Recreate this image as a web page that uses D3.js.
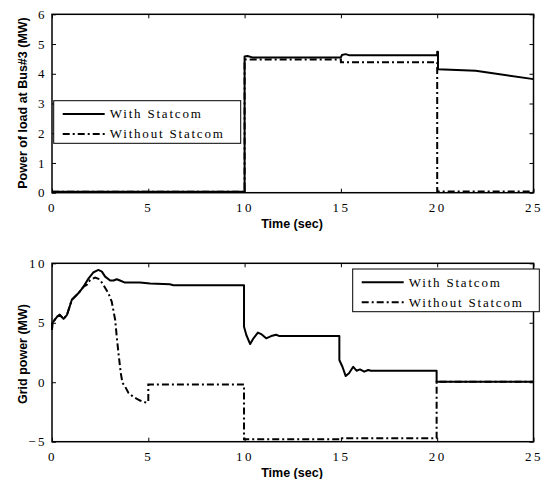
<!DOCTYPE html>
<html>
<head>
<meta charset="utf-8">
<script src="https://cdn.jsdelivr.net/npm/d3@7"></script>
<style>
  body { margin: 0; background: #fff; }
  .tick text { font-family: "Liberation Serif", "Times New Roman", serif; font-size: 13px; letter-spacing: 2.5px; fill: #000; }
  .axlabel { font-family: "Liberation Sans", Arial, sans-serif; font-weight: bold; font-size: 12.5px; }
  .legtext { font-family: "Liberation Serif", "Times New Roman", serif; font-size: 13px; letter-spacing: 1.8px; }
</style>
</head>
<body>
<div id="chart"></div>
<script>
// series: [time (sec), value (MW)]
var loadWith = [[0,0.03],[10,0.03],[10,4.58],[10.15,4.6],[10.4,4.55],[15,4.55],[15.05,4.63],[15.25,4.66],[15.45,4.62],[20,4.62],[20,4.74],[20.04,4.74],[20.04,4.15],[22,4.1],[25,3.82]];
var loadWithout = [[0,0.03],[10,0.03],[10,4.48],[15,4.48],[15,4.39],[20,4.39],[20,0.04],[25,0.04]];

var gridWith = [[0,4.4],[0.02,5.0],[0.26,5.5],[0.4,5.67],[0.6,5.33],[0.78,5.67],[1.03,6.93],[1.38,7.5],[1.64,8.04],[1.9,8.74],[2.16,9.25],[2.41,9.44],[2.59,9.3],[2.76,8.88],[3.02,8.55],[3.2,8.55],[3.36,8.66],[3.53,8.55],[3.79,8.38],[4.57,8.38],[5.09,8.3],[6.12,8.24],[6.3,8.16],[9.97,8.16],[9.97,4.67],[10.09,3.97],[10.29,3.21],[10.46,3.69],[10.69,4.17],[10.86,4.05],[11.12,3.69],[11.38,3.88],[11.64,3.99],[11.81,3.88],[14.92,3.88],[14.92,1.87],[15.08,1.3],[15.25,0.52],[15.42,0.75],[15.64,1.3],[15.81,0.97],[15.99,1.08],[16.21,0.89],[16.42,1.03],[16.56,0.97],[19.97,0.97],[19.97,0.04],[25,0.04]];
var gridWithout = [[0,4.4],[0.02,5.0],[0.26,5.5],[0.4,5.67],[0.6,5.33],[0.78,5.67],[1.03,6.93],[1.38,7.5],[1.64,8.04],[1.81,8.2],[1.98,8.6],[2.24,8.8],[2.47,8.66],[2.67,8.18],[2.93,7.48],[3.1,6.78],[3.28,5.25],[3.36,3.85],[3.45,2.46],[3.57,0.78],[3.66,-0.06],[3.79,-0.34],[3.97,-0.9],[4.22,-1.23],[4.57,-1.54],[4.91,-1.73],[5.0,-1.6],[5.0,-0.2],[9.97,-0.2],[9.97,-4.8],[15,-4.8],[15,-4.72],[19.97,-4.72],[19.97,0.04],[25,0.04]];

var xTicks = [0, 5, 10, 15, 20, 25];
var loadTicks = [0, 1, 2, 3, 4, 5, 6];
var gridTicks = [-5, 0, 5, 10];
var legendNames = ["With Statcom", "Without Statcom"];

var W = 543, H = 479;
var svg = d3.select("#chart").append("svg").attr("width", W).attr("height", H);
var fmt = d3.format("d");

function drawPanel(opts) {
    var left = 52, right = 533.5;
    var g = svg.append("g").attr("transform", "translate(" + left + "," + opts.top + ")");
    var w = right - left, h = opts.bottom - opts.top;

    var x = d3.scaleLinear().domain([0, 25]).range([0, w]);
    var y = d3.scaleLinear().domain(opts.domain).range([h, 0]);

    var line = d3.line().x(d => x(d[0])).y(d => y(d[1]));

    g.append("path").datum(opts.without)
        .attr("d", line).attr("fill", "none").attr("stroke", "#000")
        .attr("stroke-width", 2).attr("stroke-dasharray", "7,3,2,3");
    g.append("path").datum(opts.with)
        .attr("d", line).attr("fill", "none").attr("stroke", "#000")
        .attr("stroke-width", 2).attr("stroke-linejoin", "round");

    g.append("g").attr("transform", "translate(0," + h + ")")
        .call(d3.axisBottom(x).tickValues(xTicks).tickFormat(fmt).tickSizeInner(-4).tickSizeOuter(0).tickPadding(10));
    g.append("g").call(d3.axisTop(x).tickValues(xTicks).tickSizeInner(-4).tickSizeOuter(0).tickFormat(""));
    g.append("g").call(d3.axisLeft(y).tickValues(opts.ticks).tickFormat(fmt).tickSizeInner(-4).tickSizeOuter(0).tickPadding(5));
    g.append("g").attr("transform", "translate(" + w + ",0)")
        .call(d3.axisRight(y).tickValues(opts.ticks).tickSizeInner(-4).tickSizeOuter(0).tickFormat(""));
    g.selectAll(".domain").remove();
    g.selectAll(".tick line").attr("stroke-width", 1);

    g.append("rect").attr("width", w).attr("height", h)
        .attr("fill", "none").attr("stroke", "#000").attr("stroke-width", 1.5);

    svg.append("text").attr("class", "axlabel")
        .attr("x", 292).attr("y", opts.bottom + 35)
        .attr("text-anchor", "middle").text("Time (sec)");
    svg.append("text").attr("class", "axlabel")
        .attr("transform", "translate(27," + opts.ylabelY + ") rotate(-90)")
        .attr("text-anchor", "middle").text(opts.ylabel);

    // legend
    var L = opts.legend;
    var lg = svg.append("g").attr("transform", "translate(" + L.x + "," + L.y + ")");
    lg.append("rect").attr("width", L.w).attr("height", L.h)
        .attr("fill", "#fff").attr("stroke", "#000").attr("stroke-width", 1);
    legendNames.forEach(function(name, i) {
        var ly = L.h * (i === 0 ? 0.31 : 0.78);
        lg.append("line").attr("x1", 9).attr("x2", 51).attr("y1", ly).attr("y2", ly)
            .attr("stroke", "#000").attr("stroke-width", 2)
            .attr("stroke-dasharray", i === 0 ? null : "7,3,2,3");
        lg.append("text").attr("class", "legtext").attr("x", 56).attr("y", ly + 4.5).text(name);
    });
}

drawPanel({
    top: 14.3, bottom: 192.7, domain: [0, 6], ticks: loadTicks,
    with: loadWith, without: loadWithout,
    ylabel: "Power of load at Bus#3 (MW)", ylabelY: 103,
    legend: {x: 53.7, y: 100.7, w: 187, h: 42.6}
});
drawPanel({
    top: 263.3, bottom: 441.7, domain: [-5, 10], ticks: gridTicks,
    with: gridWith, without: gridWithout,
    ylabel: "Grid power (MW)", ylabelY: 354,
    legend: {x: 352.7, y: 269, w: 186.6, h: 42.7}
});
</script>
</body>
</html>
